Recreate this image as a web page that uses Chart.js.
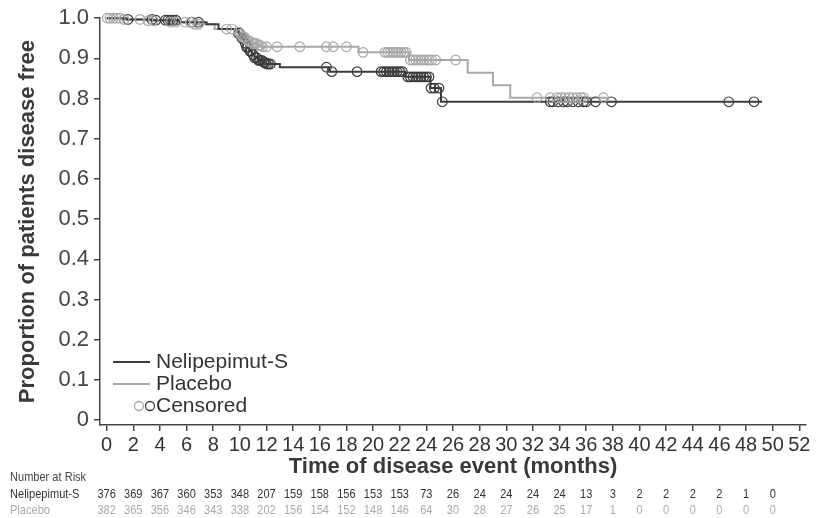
<!DOCTYPE html>
<html>
<head>
<meta charset="utf-8">
<script src="https://cdn.jsdelivr.net/npm/chart.js@4.4.1/dist/chart.umd.min.js"></script>
<style>
  body { margin: 0; background: #fff; }
  #wrap { width: 820px; height: 518px; position: relative; }
</style>
</head>
<body>
<div id="wrap"><canvas id="km"></canvas></div>
<script>
// Kaplan-Meier steps (time in months, proportion disease free)
const neliTimes = [0, 1.5, 3.5, 5.5, 7.5, 8.4, 9.9, 10.1, 10.3, 10.5, 10.7, 10.9, 11.1, 11.4, 11.7, 12.0, 13.0, 16.7, 22.4, 24.3, 25.1, 49.2];
const neliSurv  = [1.0, 0.997, 0.995, 0.99, 0.985, 0.973, 0.962, 0.95, 0.938, 0.928, 0.918, 0.909, 0.902, 0.895, 0.89, 0.886, 0.878, 0.867, 0.854, 0.826, 0.792, 0.792];

const placeboTimes = [0, 1.2, 3.0, 4.5, 6.5, 8.1, 9.8, 10.0, 10.2, 10.4, 10.6, 10.9, 11.3, 11.6, 18.9, 22.7, 27.1, 29.0, 30.3, 37.6];
const placeboSurv  = [1.0, 0.997, 0.994, 0.99, 0.985, 0.973, 0.966, 0.96, 0.953, 0.947, 0.942, 0.937, 0.932, 0.929, 0.915, 0.896, 0.864, 0.833, 0.802, 0.802];

// censoring times
const neliCensored = [1.6, 3.4, 3.7, 4.4, 4.6, 4.8, 5.0, 5.2, 6.4, 6.9,
  9.9, 10.0, 10.15, 10.25, 10.4, 10.5, 10.6, 10.75, 10.85, 11.0, 11.1, 11.25, 11.4, 11.5, 11.65, 11.8, 11.9, 12.0, 12.15, 12.3,
  16.5, 16.9, 18.8,
  20.6, 20.8, 21.0, 21.2, 21.4, 21.6, 21.8, 22.0, 22.2, 22.6, 22.8, 23.0, 23.2, 23.4, 23.6, 23.8, 24.0, 24.2,
  24.35, 24.6, 24.95, 25.2,
  33.3, 33.5, 33.9, 34.3, 34.6, 35.0, 35.4, 35.8, 36.0, 36.7, 37.9, 46.7, 48.6];
const placeboCensored = [0.05, 0.25, 0.5, 0.75, 1.0, 1.3, 2.5, 3.1, 3.5, 4.8, 5.2, 5.9, 6.3, 6.6, 6.9,
  9.0, 9.4, 9.9, 10.05, 10.2, 10.35, 10.5, 10.65, 10.8, 10.95, 11.1, 11.25, 11.4, 11.55, 11.7,
  12.0, 12.8, 14.5, 16.5, 17.0, 18.0, 19.25,
  20.9, 21.1, 21.3, 21.5, 21.7, 21.9, 22.1, 22.3, 22.5,
  22.8, 23.0, 23.2, 23.4, 23.6, 23.8, 24.0, 24.2, 24.4, 24.7, 26.2,
  32.3, 33.3, 33.8, 34.1, 34.4, 34.7, 35.0, 35.3, 35.6, 35.8, 37.3];

const xTickValues = [0, 2, 4, 6, 8, 10, 12, 14, 16, 18, 20, 22, 24, 26, 28, 30, 32, 34, 36, 38, 40, 42, 44, 46, 48, 50, 52];
const yTickValues = [0, 0.1, 0.2, 0.3, 0.4, 0.5, 0.6, 0.7, 0.8, 0.9, 1.0];

// number at risk, every 2 months from 0 to 50
const riskTimes = [0, 2, 4, 6, 8, 10, 12, 14, 16, 18, 20, 22, 24, 26, 28, 30, 32, 34, 36, 38, 40, 42, 44, 46, 48, 50];
const neliAtRisk    = [376, 369, 367, 360, 353, 348, 207, 159, 158, 156, 153, 153, 73, 26, 24, 24, 24, 24, 13, 3, 2, 2, 2, 2, 1, 0];
const placeboAtRisk = [382, 365, 356, 346, 343, 338, 202, 156, 154, 152, 148, 146, 64, 30, 28, 27, 26, 25, 17, 1, 0, 0, 0, 0, 0, 0];

const dark = '#3c3c3c';
const light = '#a8a8a8';
const axisColor = '#444';
const regular = "'Liberation Sans', Arial, sans-serif";

const survAt = (times, surv, t) => {
  let s = surv[0];
  times.forEach((tt, i) => { if (tt <= t) s = surv[i]; });
  return s;
};

const toPoints = (times, surv) => times.map((t, i) => ({ x: t, y: surv[i] }));
const censorPoints = (cens, times, surv) => cens.map(t => ({ x: t, y: survAt(times, surv, t) }));

// condensed text: squeeze horizontally around the anchor
const narrowText = (ctx, text, x, y, sx) => {
  ctx.save();
  ctx.translate(x, y);
  ctx.scale(sx, 1);
  ctx.fillText(text, 0, 0);
  ctx.restore();
};

const extras = {
  id: 'extras',
  afterDraw(chart) {
    const ctx = chart.ctx;
    const xs = chart.scales.x;
    ctx.save();

    // legend
    ctx.font = '21px ' + regular;
    ctx.textBaseline = 'middle';
    ctx.textAlign = 'left';
    ctx.lineWidth = 2;
    ctx.strokeStyle = dark;
    ctx.beginPath(); ctx.moveTo(113, 362); ctx.lineTo(150, 362); ctx.stroke();
    ctx.strokeStyle = light;
    ctx.beginPath(); ctx.moveTo(113, 384); ctx.lineTo(150, 384); ctx.stroke();
    ctx.lineWidth = 1.3;
    ctx.strokeStyle = light;
    ctx.beginPath(); ctx.arc(139, 406, 4.5, 0, Math.PI * 2); ctx.stroke();
    ctx.strokeStyle = dark;
    ctx.beginPath(); ctx.arc(150, 406, 4.5, 0, Math.PI * 2); ctx.stroke();
    ctx.fillStyle = '#333';
    ctx.fillText('Nelipepimut-S', 156, 362);
    ctx.fillText('Placebo', 156, 384);
    ctx.fillText('Censored', 156, 406);

    // number at risk table
    ctx.font = '13px ' + regular;
    ctx.fillStyle = '#444';
    narrowText(ctx, 'Number at Risk', 10, 477, 0.85);
    ctx.fillStyle = '#333';
    narrowText(ctx, 'Nelipepimut-S', 10, 494, 0.85);
    ctx.fillStyle = '#aaa';
    narrowText(ctx, 'Placebo', 10, 510, 0.85);
    ctx.textAlign = 'center';
    riskTimes.forEach((t, i) => {
      const px = xs.getPixelForValue(t);
      ctx.fillStyle = '#333';
      narrowText(ctx, String(neliAtRisk[i]), px, 494, 0.85);
      ctx.fillStyle = '#aaa';
      narrowText(ctx, String(placeboAtRisk[i]), px, 510, 0.85);
    });
    ctx.restore();
  }
};

new Chart(document.getElementById('km'), {
  type: 'scatter',
  data: {
    datasets: [
      {
        label: 'Placebo censored',
        data: censorPoints(placeboCensored, placeboTimes, placeboSurv),
        pointStyle: 'circle', pointRadius: 4.8, borderWidth: 1.2,
        borderColor: light, backgroundColor: 'rgba(0,0,0,0)', clip: false
      },
      {
        label: 'Nelipepimut-S censored',
        data: censorPoints(neliCensored, neliTimes, neliSurv),
        pointStyle: 'circle', pointRadius: 4.8, borderWidth: 1.2,
        borderColor: dark, backgroundColor: 'rgba(0,0,0,0)', clip: false
      },
      {
        label: 'Nelipepimut-S',
        data: toPoints(neliTimes, neliSurv),
        showLine: true, stepped: 'before', pointRadius: 0,
        borderColor: dark, borderWidth: 2, clip: false
      },
      {
        label: 'Placebo',
        data: toPoints(placeboTimes, placeboSurv),
        showLine: true, stepped: 'before', pointRadius: 0,
        borderColor: light, borderWidth: 2, clip: false
      }
    ]
  },
  options: {
    responsive: true,
    maintainAspectRatio: false,
    animation: false,
    layout: { padding: { left: 0, right: 14, top: 18, bottom: 36 } },
    plugins: { legend: { display: false }, tooltip: { enabled: false } },
    scales: {
      x: {
        type: 'linear',
        min: -0.5, max: 52.5,
        afterBuildTicks: s => { s.ticks = xTickValues.map(v => ({ value: v })); },
        afterFit: s => { s.height = 57; },
        grid: { drawOnChartArea: false, tickLength: 6, color: axisColor, lineWidth: 1.5 },
        border: { color: axisColor, width: 1.5 },
        ticks: { color: '#333', font: { family: regular, size: 20 }, padding: 2, maxRotation: 0, autoSkip: false },
        title: {
          display: true, text: 'Time of disease event (months)',
          color: '#3a3a3a', font: { family: regular, size: 22, weight: 'bold' },
          padding: { top: 0, bottom: 2 }
        }
      },
      y: {
        min: -0.0124, max: 1.0,
        afterBuildTicks: s => { s.ticks = yTickValues.map(v => ({ value: v })); },
        afterFit: s => { s.width = 100; },
        grid: { drawOnChartArea: false, tickLength: 6, color: axisColor, lineWidth: 1.5 },
        border: { color: axisColor, width: 1.5 },
        ticks: {
          color: '#444', font: { family: regular, size: 22 }, padding: 5,
          callback: v => v === 0 ? '0' : v.toFixed(1)
        },
        title: {
          display: true, text: 'Proportion of patients disease free',
          color: '#3a3a3a', font: { family: regular, size: 22, weight: 'bold' },
          padding: { top: 15, bottom: 0 }
        }
      }
    }
  },
  plugins: [extras]
});
</script>
</body>
</html>
